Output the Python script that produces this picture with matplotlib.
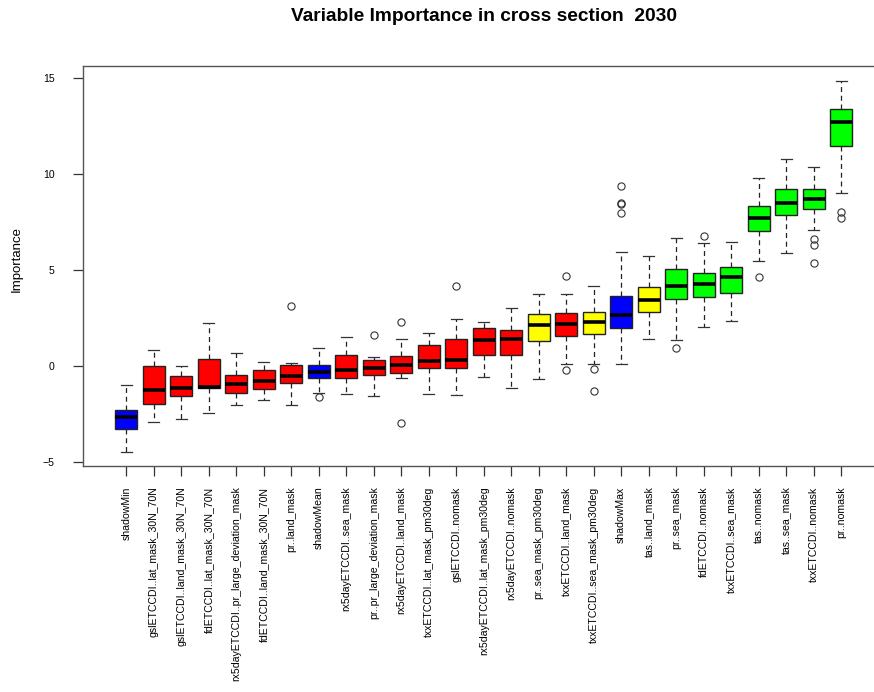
import matplotlib
matplotlib.use("Agg")
import matplotlib.pyplot as plt

plt.rcParams["font.family"] = ["Liberation Sans", "DejaVu Sans"]

# Boruta-style variable importance, one box per attribute (sorted by median)
names = [
    "shadowMin",
    "gslETCCDI..lat_mask_30N_70N",
    "gslETCCDI..land_mask_30N_70N",
    "fdETCCDI..lat_mask_30N_70N",
    "rx5dayETCCDI..pr_large_deviation_mask",
    "fdETCCDI..land_mask_30N_70N",
    "pr..land_mask",
    "shadowMean",
    "rx5dayETCCDI..sea_mask",
    "pr..pr_large_deviation_mask",
    "rx5dayETCCDI..land_mask",
    "txxETCCDI..lat_mask_pm30deg",
    "gslETCCDI..nomask",
    "rx5dayETCCDI..lat_mask_pm30deg",
    "rx5dayETCCDI..nomask",
    "pr..sea_mask_pm30deg",
    "txxETCCDI..land_mask",
    "txxETCCDI..sea_mask_pm30deg",
    "shadowMax",
    "tas..land_mask",
    "pr..sea_mask",
    "fdETCCDI..nomask",
    "txxETCCDI..sea_mask",
    "tas..nomask",
    "tas..sea_mask",
    "txxETCCDI..nomask",
    "pr..nomask",
]

decision = [
    "Shadow", "Rejected", "Rejected", "Rejected", "Rejected", "Rejected",
    "Rejected", "Shadow", "Rejected", "Rejected", "Rejected", "Rejected",
    "Rejected", "Rejected", "Rejected", "Tentative", "Rejected", "Tentative",
    "Shadow", "Tentative", "Confirmed", "Confirmed", "Confirmed", "Confirmed",
    "Confirmed", "Confirmed", "Confirmed",
]

whislo = [-4.46, -2.92, -2.74, -2.45, -2.03, -1.77, -2.03, -1.42, -1.46,
          -1.56, -0.63, -1.46, -1.51, -0.57, -1.13, -0.68, 0.09, 0.10,
          0.10, 1.39, 1.34, 2.01, 2.36, 5.49, 5.90, 7.08, 8.99]
q1 = [-3.26, -1.98, -1.56, -1.16, -1.42, -1.20, -0.90, -0.64, -0.63,
      -0.49, -0.38, -0.12, -0.12, 0.56, 0.56, 1.30, 1.55, 1.67,
      1.96, 2.83, 3.51, 3.61, 3.82, 7.03, 7.86, 8.16, 11.47]
med = [-2.66, -1.25, -1.15, -1.08, -0.94, -0.76, -0.54, -0.33, -0.21,
       -0.10, 0.03, 0.26, 0.31, 1.34, 1.39, 2.12, 2.17, 2.31,
       2.64, 3.45, 4.18, 4.29, 4.65, 7.73, 8.49, 8.70, 12.69]
q3 = [-2.29, -0.02, -0.54, 0.35, -0.49, -0.23, 0.03, 0.03, 0.59,
      0.31, 0.50, 1.08, 1.42, 2.00, 1.86, 2.69, 2.74, 2.83,
      3.66, 4.13, 5.07, 4.86, 5.17, 8.33, 9.20, 9.20, 13.37]
whishi = [-0.99, 0.82, -0.02, 2.26, 0.66, 0.19, 0.14, 0.92, 1.49,
          0.49, 1.39, 1.70, 2.47, 2.27, 3.04, 3.77, 3.77, 4.17,
          5.95, 5.73, 6.67, 6.42, 6.48, 9.77, 10.80, 10.35, 14.86]
outliers = [
    [], [], [], [], [], [], [3.11], [-1.63], [], [1.60], [2.27, -2.95], [],
    [4.15], [], [], [], [4.70, -0.23], [-0.17, -1.30],
    [9.38, 8.51, 8.42, 7.97], [], [0.92], [6.79], [], [4.62], [],
    [6.60, 6.28, 5.38], [8.00, 7.71],
]

palette = {"Shadow": "#0000FF", "Rejected": "#FF0000",
           "Tentative": "#FFFF00", "Confirmed": "#00FF00"}

stats = [
    {"label": n, "whislo": lo, "q1": a, "med": m, "q3": b, "whishi": hi,
     "fliers": f}
    for n, lo, a, m, b, hi, f in zip(names, whislo, q1, med, q3, whishi,
                                     outliers)
]

fig = plt.figure(figsize=(8.74, 6.92), dpi=100)
ax = fig.add_axes([0.095, 0.326, 0.917, 0.5786])

positions = list(range(1, len(names) + 1))
bp = ax.bxp(
    stats, positions=positions, widths=0.8, capwidths=0.4,
    patch_artist=True, showfliers=True,
    boxprops=dict(edgecolor="#222222", linewidth=1.0),
    medianprops=dict(color="black", linewidth=2.6, solid_capstyle="butt"),
    whiskerprops=dict(color="#222222", linewidth=0.9, linestyle=(0, (4, 3))),
    capprops=dict(color="#333333", linewidth=0.9),
    flierprops=dict(marker="o", markerfacecolor="none",
                    markeredgecolor="#333333", markersize=5.2,
                    markeredgewidth=0.8, linestyle="none"),
)
for patch, d in zip(bp["boxes"], decision):
    patch.set_facecolor(palette[d])

ax.set_xlim(-0.58, len(names) + 1.58)
ax.set_ylim(-5.23, 15.63)
ax.set_yticks([-5, 0, 5, 10, 15])
ax.set_xticks(positions)
ax.set_xticklabels(names, rotation=90, fontsize=7.6)
ax.tick_params(axis="x", length=7.5, width=0.9, pad=7, colors="#333333",
               labelcolor="black")
ax.tick_params(axis="y", length=7.5, width=0.9, pad=13, colors="#333333",
               labelcolor="black", labelsize=7.6)
for side in ax.spines.values():
    side.set_color("#555555")
    side.set_linewidth(1.0)

fig.text(17 / 874, 1 - 259 / 692, "Importance", rotation=90,
         ha="center", va="center", fontsize=9.5)
fig.text(0.095 + 0.917 / 2, 1 - 21.3 / 692,
         "Variable Importance in cross section  2030",
         ha="center", va="baseline", fontsize=13.8, fontweight="bold")

fig.savefig("out.png", dpi=100)
